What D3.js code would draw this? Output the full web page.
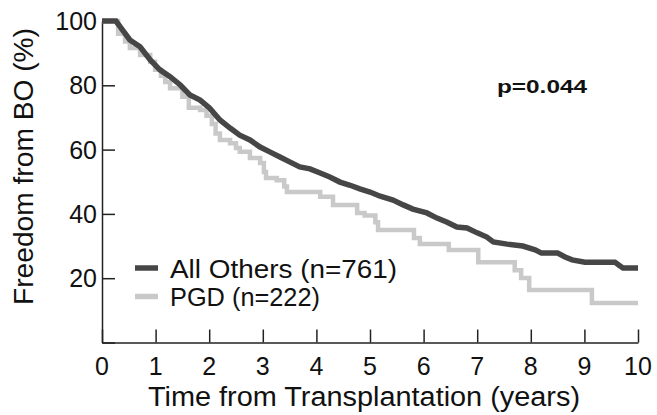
<!DOCTYPE html>
<html>
<head>
<meta charset="utf-8">
<script src="https://cdn.jsdelivr.net/npm/d3@7"></script>
<style>
    body { margin: 0; background: #fff; }
    svg { font-family: "Liberation Sans", Arial, sans-serif; }
</style>
</head>
<body>
<div id="graph"></div>
<script>
// DATA ([years, % free from BO])
var othersTimes = [0, 0.26, 0.34, 0.52, 0.71, 0.9, 1.08, 1.27, 1.46, 1.64, 1.83, 2.01, 2.2, 2.39, 2.57, 2.76, 2.95, 3.13, 3.32, 3.51, 3.69, 3.88, 4.07, 4.25, 4.44, 4.63, 4.81, 5, 5.19, 5.43, 5.62, 5.8, 6.06, 6.25, 6.44, 6.62, 6.81, 7, 7.18, 7.3, 7.56, 7.85, 8.08, 8.2, 8.5, 8.64, 8.77, 9.01, 9.57, 9.64, 9.72, 10];
var othersValues = [100, 100, 98.2, 94.1, 92, 87.9, 84.8, 82.7, 80.1, 77, 75.4, 72.9, 69.2, 66.7, 64.5, 63, 60.8, 59.3, 57.7, 56.1, 54.6, 54, 52.7, 51.5, 49.9, 48.9, 47.8, 46.8, 45.5, 44.3, 42.8, 41.5, 40.3, 38.7, 37.4, 35.9, 35.6, 34.1, 32.8, 31.3, 30.6, 30.0, 28.8, 27.8, 27.8, 26.6, 25.7, 25, 25, 24.1, 23.2, 23.2];

var pgdTimes = [0, 0.3, 0.43, 0.52, 0.71, 0.9, 0.99, 1.1, 1.18, 1.27, 1.5, 1.62, 1.83, 1.95, 2.05, 2.12, 2.2, 2.39, 2.5, 2.57, 2.76, 2.95, 3.02, 3.06, 3.26, 3.4, 3.45, 4.07, 4.31, 4.76, 4.9, 5.1, 5.15, 5.82, 5.93, 6.47, 7.02, 7.7, 7.82, 7.97, 9.14, 10];
var pgdValues = [100, 96, 93.6, 91.6, 89.4, 87.3, 84.8, 83, 81, 79.1, 76.4, 73, 72.3, 70.5, 68, 65, 63, 62, 60.5, 59.3, 57.4, 55.8, 53, 51.2, 50.5, 48.5, 46.8, 45.3, 42.8, 40.3, 39.5, 37.4, 35, 32.5, 30.6, 28.8, 25, 22.5, 20.1, 16.3, 12.3, 12.3];

var xTicks = [0, 1, 2, 3, 4, 5, 6, 7, 8, 9, 10];
var yTicks = [20, 40, 60, 80, 100];
var legendLabels = ["All Others (n=761)", "PGD (n=222)"];
var pValue = "p=0.044";


// SETUP
var svgWidth = 657;
var svgHeight = 415;
var axisColor = "#222";
var darkColor = "#464646";
var lightColor = "#c9c9c9";

var svg = d3.select("#graph")
    .append("svg")
    .attr("width", svgWidth)
    .attr("height", svgHeight);

var xScale = d3.scaleLinear().domain([0, 10]).range([102, 638]);
var yScale = d3.scaleLinear().domain([0, 100]).range([342.5, 21]);


// AXES (ticks point inward)
var xAxis = svg.append("g")
    .attr("transform", "translate(0," + yScale(0) + ")")
    .call(d3.axisTop(xScale).tickValues(xTicks).tickSizeOuter(0).tickFormat(""));
var yAxis = svg.append("g")
    .attr("transform", "translate(" + xScale(0) + ",0)")
    .call(d3.axisRight(yScale).tickValues([0].concat(yTicks)).tickSize(13).tickSizeOuter(0).tickFormat(""));
xAxis.selectAll(".tick line").attr("y2", -13);
[xAxis, yAxis].forEach(function(ax) {
    ax.selectAll("path, line").attr("stroke", axisColor).attr("stroke-width", 1.5);
});

// Tick labels
svg.selectAll(".xlab")
    .data(xTicks)
    .enter().append("text")
    .attr("x", d => xScale(d))
    .attr("y", 375)
    .attr("text-anchor", "middle")
    .attr("font-size", 25)
    .attr("fill", "#111")
    .text(d => d);

svg.selectAll(".ylab")
    .data(yTicks)
    .enter().append("text")
    .attr("x", 97)
    .attr("y", d => yScale(d) + 9)
    .attr("text-anchor", "end")
    .attr("font-size", 25)
    .attr("fill", "#111")
    .text(d => d);

// Axis titles (the figure's lettering runs a little wide)
svg.append("text")
    .attr("x", 148)
    .attr("y", 406)
    .attr("font-size", 27)
    .attr("textLength", 432)
    .attr("lengthAdjust", "spacingAndGlyphs")
    .attr("fill", "#111")
    .text("Time from Transplantation (years)");

svg.append("text")
    .attr("transform", "translate(33,305) rotate(-90)")
    .attr("font-size", 27)
    .attr("textLength", 277)
    .attr("lengthAdjust", "spacingAndGlyphs")
    .attr("fill", "#111")
    .text("Freedom from BO (%)");


// CURVES
var line = d3.line()
    .x(d => xScale(d[0]))
    .y(d => yScale(d[1]));

var pgdPoints = pgdTimes.map((t, i) => [t, pgdValues[i]]);
var othersPoints = othersTimes.map((t, i) => [t, othersValues[i]]);

svg.append("path")
    .datum(pgdPoints)
    .attr("fill", "none")
    .attr("stroke", lightColor)
    .attr("stroke-width", 4.5)
    .attr("d", line.curve(d3.curveStepAfter));

svg.append("path")
    .datum(othersPoints)
    .attr("fill", "none")
    .attr("stroke", darkColor)
    .attr("stroke-width", 5.5)
    .attr("d", line.curve(d3.curveLinear));


// LEGEND
var legendColors = [darkColor, lightColor];
var legendWidths = [227, 150];
var legend = svg.selectAll(".legend")
    .data(legendLabels)
    .enter().append("g")
    .attr("transform", (d, i) => "translate(135," + (268 + i * 28.5) + ")");
legend.append("line")
    .attr("x1", 0).attr("x2", 23)
    .attr("stroke", (d, i) => legendColors[i])
    .attr("stroke-width", 5.5);
legend.append("text")
    .attr("x", 35)
    .attr("y", 9.5)
    .attr("font-size", 26)
    .attr("textLength", (d, i) => legendWidths[i])
    .attr("lengthAdjust", "spacingAndGlyphs")
    .attr("fill", "#111")
    .text(d => d);

svg.append("text")
    .attr("x", 497)
    .attr("y", 93)
    .attr("font-size", 18)
    .attr("font-weight", "bold")
    .attr("textLength", 90)
    .attr("lengthAdjust", "spacingAndGlyphs")
    .attr("fill", "#111")
    .text(pValue);
</script>
</body>
</html>
